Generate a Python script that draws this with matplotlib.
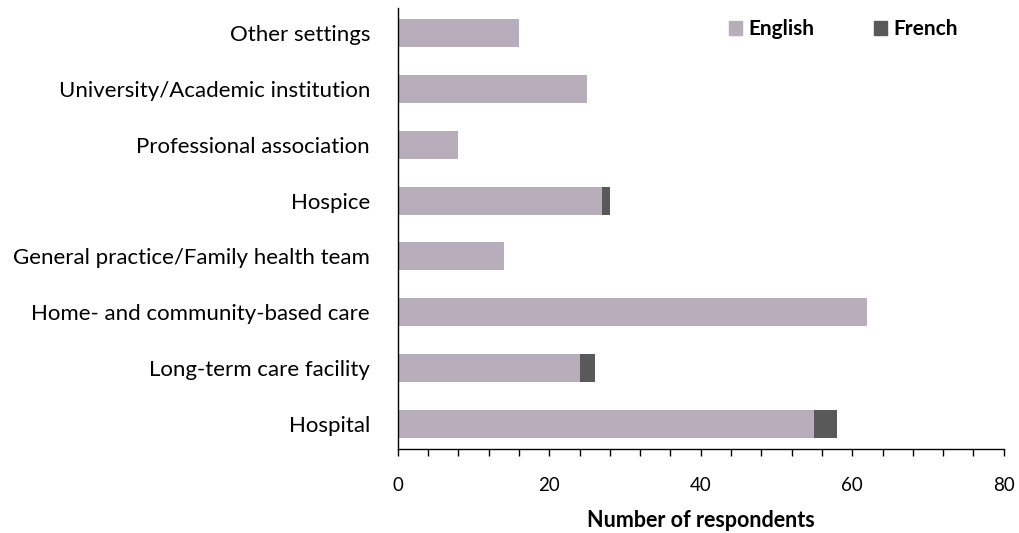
import numpy as np
from matplotlib import pyplot as plt
from matplotlib.ticker import MultipleLocator
from matplotlib.patches import Patch

plt.rcParams['font.family'] = ['Lato', 'DejaVu Sans']

# Work settings, bottom to top
settings = ['Hospital', 'Long-term care facility', 'Home- and community-based care',
            'General practice/Family health team', 'Hospice', 'Professional association',
            'University/Academic institution', 'Other settings']
english = np.array([55, 24, 62, 14, 27, 8, 25, 16])
french = np.array([3, 2, 0, 0, 1, 0, 0, 0])

english_color = '#b8adba'
french_color = '#595959'

fig = plt.figure(figsize=(10.2, 5.33), dpi=100)
ax = fig.add_axes([0.390, 0.1576, 0.594, 0.8274])

y = np.arange(len(settings))
ax.barh(y, english, height=0.5, color=english_color)
ax.barh(y, french, left=english, height=0.5, color=french_color)

ax.set_yticks(y)
ax.set_yticklabels(settings, fontsize=16)
ax.tick_params(axis='y', length=0, pad=20)
ax.set_ylim(-0.45, len(settings) - 0.55)

ax.set_xlim(0, 80)
ax.xaxis.set_major_locator(MultipleLocator(20))
ax.xaxis.set_minor_locator(MultipleLocator(4))
ax.tick_params(axis='x', which='both', direction='out', length=5, width=1, labelsize=13.5, pad=15.5)
ax.set_xlabel('Number of respondents', fontsize=15.5, fontweight='bold', labelpad=11)

for side in ['top', 'right']:
    ax.spines[side].set_visible(False)
for side in ['left', 'bottom']:
    ax.spines[side].set_linewidth(1)

handles = [Patch(color=english_color, label='English'), Patch(color=french_color, label='French')]
ax.legend(handles=handles, loc='upper right', bbox_to_anchor=(0.955, 1.017), ncol=2, frameon=False,
          handlelength=0.6, handleheight=0.6, handletextpad=0.3, columnspacing=2.9,
          prop={'weight': 'bold', 'size': 15})

fig.savefig('out.png', dpi=100)
